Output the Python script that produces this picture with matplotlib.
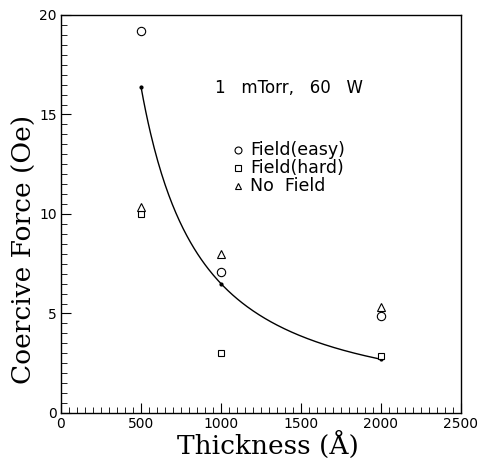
import numpy as np
import matplotlib
matplotlib.use("Agg")
import matplotlib.pyplot as plt
from matplotlib.ticker import MultipleLocator

# thickness (A) and coercive force (Oe)
thickness = [500, 1000, 2000]
easy = [19.2, 7.1, 4.85]
hard = [10.0, 3.0, 2.85]
nofield = [10.35, 8.0, 5.35]
fit_pts = [16.4, 6.5, 2.7]

fig = plt.figure(figsize=(4.79, 4.58), dpi=100)
ax = fig.add_axes([0.1273, 0.0983, 0.835, 0.869])

# smooth fit through the dots (quadratic in log-log)
coef = np.polyfit(np.log(thickness), np.log(fit_pts), 2)
xs = np.linspace(thickness[0], thickness[-1], 200)
ax.plot(xs, np.exp(np.polyval(coef, np.log(xs))), color="black", lw=1.0)
ax.plot(thickness, fit_pts, "o", color="black", ms=2)

ax.plot(thickness, easy, "o", mfc="white", mec="black", ms=6, mew=0.8, ls="none")
ax.plot(thickness, hard, "s", mfc="white", mec="black", ms=5, mew=0.8, ls="none")
ax.plot(thickness, nofield, "^", mfc="white", mec="black", ms=6, mew=0.8, ls="none")

ax.set_xlim(0, 2500)
ax.set_ylim(0, 20)
ax.xaxis.set_major_locator(MultipleLocator(500))
ax.xaxis.set_minor_locator(MultipleLocator(50))
ax.yaxis.set_major_locator(MultipleLocator(5))
ax.yaxis.set_minor_locator(MultipleLocator(0.5))
ax.tick_params(which="both", direction="in", top=False, right=False, labelsize=10, pad=3)
ax.tick_params(which="major", length=7)
ax.tick_params(which="minor", length=4)
for s in ax.spines.values():
    s.set_linewidth(1.0)

# axis titles placed by hand so the Å fits inside the canvas
fig.text(0.56, 0.008, "Thickness (Å)", family="DejaVu Serif", fontsize=19,
         ha="center", va="baseline")
fig.text(0.05, 0.456, "Coercive Force (Oe)", family="DejaVu Serif", fontsize=19,
         ha="center", va="center", rotation=90)

ax.text(962, 16.33, "1   mTorr,   60   W", fontsize=12, ha="left", va="center")

# hand-drawn style legend
leg_y = [13.2, 12.3, 11.4]
leg_m = ["o", "s", "^"]
leg_t = ["Field(easy)", "Field(hard)", "No  Field"]
for yy, m, t in zip(leg_y, leg_m, leg_t):
    ax.plot([1106], [yy], m, mfc="white", mec="black", ms=5, mew=0.8)
    ax.text(1181, yy, t, fontsize=12.5, va="center")

fig.savefig("out.png", dpi=100)
